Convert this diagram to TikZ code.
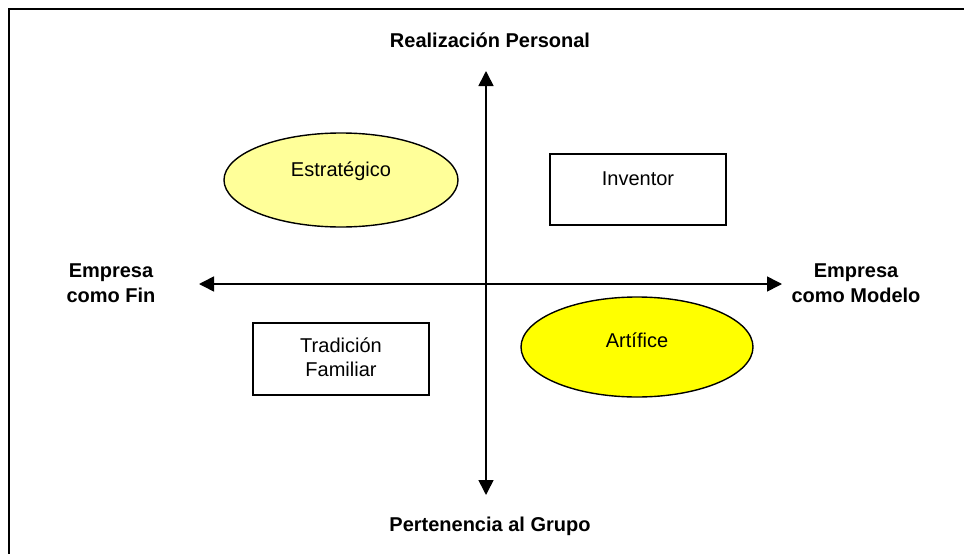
\documentclass[tikz,border=0pt]{standalone}
\usepackage{fontspec}
\setmainfont{Liberation Sans}
\usetikzlibrary{shapes.geometric,arrows.meta}
\definecolor{lightyel}{HTML}{FFFF99}
\definecolor{yel}{HTML}{FFFF00}
\tikzset{
  axis/.style={line width=1.6pt,-{Triangle[length=15pt,width=15pt]}},
  lbl/.style={font=\fontsize{20}{25}\selectfont\bfseries,align=center,inner sep=0pt},
  txt/.style={font=\fontsize{20}{24}\selectfont,align=center,inner sep=0pt},
  ell/.style={ellipse,draw,line width=1.4pt},
  boxs/.style={draw,line width=1.1pt},
}
\begin{document}
\begin{tikzpicture}[x=1pt,y=-1pt]
\useasboundingbox (0,0) rectangle (964,554);
\fill[white] (0,0) rectangle (964,554);
% frame
\draw[line width=2pt] (9,570) -- (9,8.5) -- (980,8.5);
% axes
\coordinate (c) at (486,284);
\coordinate (top) at (486,71);
\coordinate (bot) at (486,495);
\coordinate (lft) at (199,284);
\coordinate (rgt) at (782,284);
\draw[axis] (c) -- (top);
\draw[axis] (c) -- (bot);
\draw[axis] (c) -- (lft);
\draw[axis] (c) -- (rgt);
% axis labels
\node[lbl] (rp) at (490,40) {Realización Personal};
\node[lbl] (pg) at (490,526) {Pertenencia al Grupo};
\node[lbl] (ef) at (111,283) {Empresa\\como Fin};
\node[lbl] (em) at (856,283) {Empresa\\como Modelo};
% quadrants
\draw[ell,fill=lightyel] (341,180) ellipse [x radius=117, y radius=47];
\node[txt] (est) at (341,171) {Estratégico};
\draw[boxs] (550,154) rectangle (726,225);
\node[txt] (inv) at (638,179) {Inventor};
\draw[boxs] (253,323) rectangle (429,395);
\node[txt] (tf) at (341,357) {Tradición\\Familiar};
\draw[ell,fill=yel] (637,347) ellipse [x radius=116, y radius=50];
\node[txt] (art) at (637,340) {Artífice};
\end{tikzpicture}
\end{document}
